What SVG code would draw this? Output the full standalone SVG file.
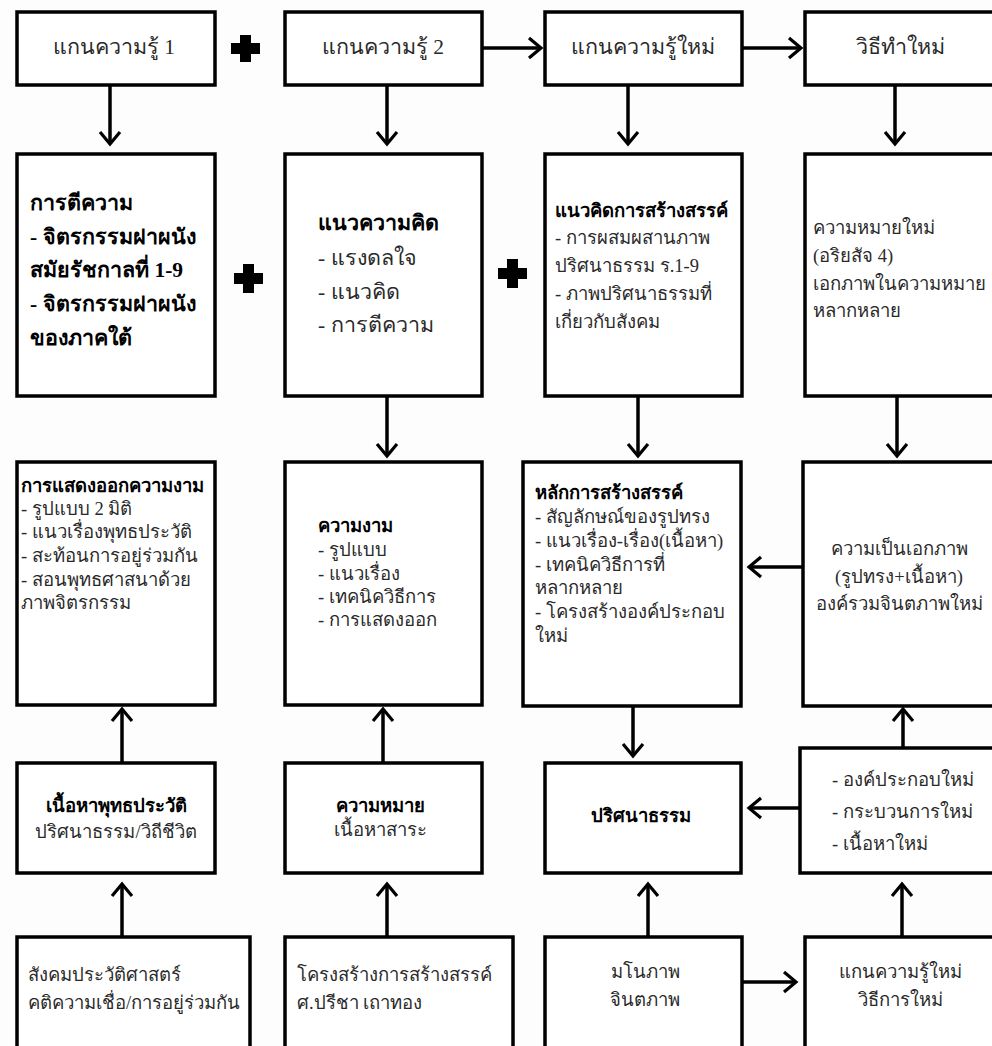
<svg xmlns="http://www.w3.org/2000/svg" width="992" height="1046" viewBox="0 0 992 1046">
<defs>
<style>
.box{fill:#fff;stroke:#000;stroke-width:3.5}
.t{font-family:"Liberation Serif",serif;font-size:18.5px;fill:#2a2a2a;dominant-baseline:central}
.l{font-size:21.5px}
.m{text-anchor:middle}
.b{font-weight:bold;fill:#000}
.c{stroke:#000;stroke-width:3.5;fill:none}
.plus{fill:#000}
</style>
<marker id="ah" markerUnits="userSpaceOnUse" markerWidth="20" markerHeight="24" refX="14" refY="12" orient="auto" viewBox="0 0 20 24">
<path d="M3,2 L15,12 L3,22" fill="none" stroke="#000" stroke-width="3.2" stroke-linejoin="miter"/>
</marker>
</defs>
<rect width="992" height="1046" fill="#fdfdfd"/>

<g id="n-r1c1"><rect class="box" x="17" y="12" width="198" height="73"/><text class="t l m" x="114" y="47">แกนความรู้ 1</text></g>
<g id="n-r1c2"><rect class="box" x="285" y="12" width="197" height="73"/><text class="t l m" x="383" y="47">แกนความรู้ 2</text></g>
<g id="n-r1c3"><rect class="box" x="545" y="12" width="197" height="73"/><text class="t l m" x="643" y="47">แกนความรู้ใหม่</text></g>
<g id="n-r1c4"><rect class="box" x="805" y="12" width="192" height="73"/><text class="t l m" x="900" y="47">วิธีทำใหม่</text></g>

<g id="n-r2c1"><rect class="box" x="17" y="154" width="198" height="242"/>
<text class="t l b" x="30" y="203">การตีความ</text>
<text class="t l b" x="30" y="237">- จิตรกรรมฝาผนัง</text>
<text class="t l b" x="30" y="270">สมัยรัชกาลที่ 1-9</text>
<text class="t l b" x="30" y="304">- จิตรกรรมฝาผนัง</text>
<text class="t l b" x="30" y="338">ของภาคใต้</text></g>
<g id="n-r2c2"><rect class="box" x="285" y="154" width="197" height="242"/>
<text class="t l b" x="318" y="223">แนวความคิด</text>
<text class="t l" x="318" y="258">- แรงดลใจ</text>
<text class="t l" x="318" y="292">- แนวคิด</text>
<text class="t l" x="318" y="325">- การตีความ</text></g>
<g id="n-r2c3"><rect class="box" x="545" y="154" width="197" height="242"/>
<text class="t b" x="555" y="211">แนวคิดการสร้างสรรค์</text>
<text class="t" x="555" y="238">- การผสมผสานภาพ</text>
<text class="t" x="555" y="266">ปริศนาธรรม ร.1-9</text>
<text class="t" x="555" y="294">- ภาพปริศนาธรรมที่</text>
<text class="t" x="555" y="322">เกี่ยวกับสังคม</text></g>
<g id="n-r2c4"><rect class="box" x="805" y="154" width="192" height="242"/>
<text class="t" x="813" y="228">ความหมายใหม่</text>
<text class="t" x="813" y="256">(อริยสัจ 4)</text>
<text class="t" x="813" y="284">เอกภาพในความหมาย</text>
<text class="t" x="813" y="311">หลากหลาย</text></g>

<g id="n-r3c1"><rect class="box" x="17" y="462" width="198" height="243"/>
<text class="t b" x="21" y="486">การแสดงออกความงาม</text>
<text class="t" x="21" y="509">- รูปแบบ 2 มิติ</text>
<text class="t" x="21" y="532">- แนวเรื่องพุทธประวัติ</text>
<text class="t" x="21" y="556">- สะท้อนการอยู่ร่วมกัน</text>
<text class="t" x="21" y="580">- สอนพุทธศาสนาด้วย</text>
<text class="t" x="21" y="603">ภาพจิตรกรรม</text></g>
<g id="n-r3c2"><rect class="box" x="285" y="462" width="197" height="243"/>
<text class="t b" x="318" y="526">ความงาม</text>
<text class="t" x="318" y="550">- รูปแบบ</text>
<text class="t" x="318" y="574">- แนวเรื่อง</text>
<text class="t" x="318" y="597">- เทคนิควิธีการ</text>
<text class="t" x="318" y="620">- การแสดงออก</text></g>
<g id="n-r3c3"><rect class="box" x="523" y="462" width="218" height="244"/>
<text class="t b" x="535" y="493">หลักการสร้างสรรค์</text>
<text class="t" x="535" y="517">- สัญลักษณ์ของรูปทรง</text>
<text class="t" x="535" y="541">- แนวเรื่อง-เรื่อง(เนื้อหา)</text>
<text class="t" x="535" y="565">- เทคนิควิธีการที่</text>
<text class="t" x="535" y="588">หลากหลาย</text>
<text class="t" x="535" y="612">- โครงสร้างองค์ประกอบ</text>
<text class="t" x="535" y="636">ใหม่</text></g>
<g id="n-r3c4"><rect class="box" x="803" y="462" width="194" height="244"/>
<text class="t m" x="899" y="549">ความเป็นเอกภาพ</text>
<text class="t m" x="899" y="577">(รูปทรง+เนื้อหา)</text>
<text class="t m" x="899" y="604">องค์รวมจินตภาพใหม่</text></g>

<g id="n-r4c1"><rect class="box" x="17" y="763" width="198" height="110"/>
<text class="t b m" x="116" y="806">เนื้อหาพุทธประวัติ</text>
<text class="t m" x="116" y="832">ปริศนาธรรม/วิถีชีวิต</text></g>
<g id="n-r4c2"><rect class="box" x="285" y="763" width="197" height="110"/>
<text class="t b m" x="380" y="806">ความหมาย</text>
<text class="t m" x="380" y="830">เนื้อหาสาระ</text></g>
<g id="n-r4c3"><rect class="box" x="545" y="763" width="196" height="110"/>
<text class="t b m" x="641" y="816">ปริศนาธรรม</text></g>
<g id="n-r4c4"><rect class="box" x="800" y="748" width="197" height="125"/>
<text class="t" x="832" y="780">- องค์ประกอบใหม่</text>
<text class="t" x="832" y="812">- กระบวนการใหม่</text>
<text class="t" x="832" y="844">- เนื้อหาใหม่</text></g>

<g id="n-r5c1"><rect class="box" x="17" y="937" width="233" height="112"/>
<text class="t" x="28" y="975">สังคมประวัติศาสตร์</text>
<text class="t" x="28" y="1003">คติความเชื่อ/การอยู่ร่วมกัน</text></g>
<g id="n-r5c2"><rect class="box" x="285" y="937" width="228" height="112"/>
<text class="t" x="297" y="975">โครงสร้างการสร้างสรรค์</text>
<text class="t" x="297" y="1003">ศ.ปรีชา เถาทอง</text></g>
<g id="n-r5c3"><rect class="box" x="545" y="937" width="197" height="112"/>
<text class="t m" x="645" y="972">มโนภาพ</text>
<text class="t m" x="645" y="1000">จินตภาพ</text></g>
<g id="n-r5c4"><rect class="box" x="805" y="937" width="192" height="112"/>
<text class="t m" x="900" y="972">แกนความรู้ใหม่</text>
<text class="t m" x="900" y="1000">วิธีการใหม่</text></g>

<g id="plus-signs">
<path class="plus" d="M240,35 h11 v8 h9 v11 h-9 v8 h-11 v-8 h-9 v-11 h9 z"/>
<path class="plus" d="M243,264 h11 v9 h9 v11 h-9 v9 h-11 v-9 h-9 v-11 h9 z"/>
<path class="plus" d="M507,259 h11 v9 h9 v11 h-9 v9 h-11 v-9 h-9 v-11 h9 z"/>
</g>

<g id="connectors" marker-end="url(#ah)">
<line class="c" x1="110" y1="86" x2="110" y2="143"/>
<line class="c" x1="387" y1="86" x2="387" y2="143"/>
<line class="c" x1="628" y1="86" x2="628" y2="143"/>
<line class="c" x1="895" y1="86" x2="895" y2="143"/>
<line class="c" x1="483" y1="48" x2="540" y2="48"/>
<line class="c" x1="743" y1="48" x2="800" y2="48"/>
<line class="c" x1="387" y1="397" x2="387" y2="455"/>
<line class="c" x1="638" y1="397" x2="638" y2="455"/>
<line class="c" x1="897" y1="397" x2="897" y2="455"/>
<line class="c" x1="802" y1="567" x2="750" y2="567"/>
<line class="c" x1="633" y1="707" x2="633" y2="755"/>
<line class="c" x1="903" y1="747" x2="903" y2="710"/>
<line class="c" x1="799" y1="808" x2="750" y2="808"/>
<line class="c" x1="122" y1="762" x2="122" y2="710"/>
<line class="c" x1="383" y1="762" x2="383" y2="710"/>
<line class="c" x1="122" y1="936" x2="122" y2="885"/>
<line class="c" x1="387" y1="936" x2="387" y2="885"/>
<line class="c" x1="648" y1="936" x2="648" y2="885"/>
<line class="c" x1="902" y1="936" x2="902" y2="885"/>
<line class="c" x1="743" y1="982" x2="795" y2="982"/>
</g>
</svg>
